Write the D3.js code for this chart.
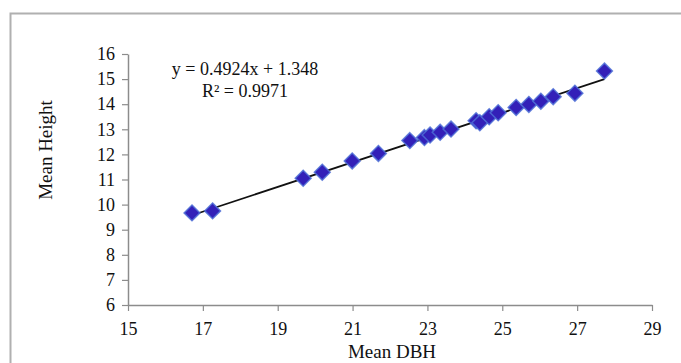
<!DOCTYPE html>
<html>
<head>
<meta charset="utf-8">
<script src="https://cdn.jsdelivr.net/npm/d3@7"></script>
<style>
  html, body { margin: 0; padding: 0; background: #fff; }
  svg { display: block; }
</style>
</head>
<body>
<svg id="chart"></svg>
<script>
// mean DBH / mean height
const dbh = [16.71, 17.26, 19.68, 20.19, 20.99, 21.69, 22.53, 22.92, 23.07, 23.34, 23.63,
             24.30, 24.40, 24.65, 24.89, 25.37, 25.71, 26.03, 26.36, 26.94, 27.73];
const height = [9.67, 9.75, 11.05, 11.29, 11.74, 12.04, 12.55, 12.67, 12.77, 12.88, 13.01,
                13.34, 13.26, 13.50, 13.66, 13.87, 13.99, 14.12, 14.30, 14.44, 15.32];
const xTicks = [15, 17, 19, 21, 23, 25, 27, 29];
const yTicks = [6, 7, 8, 9, 10, 11, 12, 13, 14, 15, 16];
const slope = 0.4924, intercept = 1.348;
const eqLines = ["y = 0.4924x + 1.348", "R² = 0.9971"];

const W = 681, H = 363;
const serif = "'Liberation Serif', 'Times New Roman', serif";
const svg = d3.select("#chart").attr("width", W).attr("height", H)
    .attr("font-family", serif);

// outer frame (only top & left show in the crop)
svg.append("path")
    .attr("d", `M10.5,${H}V13.5H${W}`)
    .attr("fill", "none").attr("stroke", "#b0b0b0").attr("stroke-width", 2);

const x = d3.scaleLinear().domain([15, 29]).range([128, 652]);
const y = d3.scaleLinear().domain([6, 16]).range([305, 54]);

const xAxis = svg.append("g")
    .attr("transform", `translate(0,${y(6)})`)
    .call(d3.axisBottom(x).tickValues(xTicks).tickSize(6).tickPadding(8).tickSizeOuter(0));
const yAxis = svg.append("g")
    .attr("transform", `translate(${x(15)},0)`)
    .call(d3.axisLeft(y).tickValues(yTicks).tickSize(6).tickPadding(7).tickSizeOuter(0));

[xAxis, yAxis].forEach(g => {
    g.select(".domain").attr("stroke", "#8c8c8c").attr("stroke-width", 1.5);
    g.selectAll(".tick line").attr("stroke", "#8c8c8c").attr("stroke-width", 1.2);
    g.selectAll(".tick text").attr("fill", "#111").attr("font-size", 18)
        .attr("font-family", serif);
});
xAxis.selectAll(".tick text").attr("dy", "0.9em");

// trend line
const x0 = d3.min(dbh), x1 = d3.max(dbh);
svg.append("line")
    .attr("x1", x(x0)).attr("y1", y(slope * x0 + intercept))
    .attr("x2", x(x1)).attr("y2", y(slope * x1 + intercept))
    .attr("stroke", "#111").attr("stroke-width", 1.8);

// diamond markers
const sym = d3.symbol().type(d3.symbolDiamond2).size(160);
svg.append("g")
    .selectAll("path")
    .data(dbh.map((d, i) => [d, height[i]]))
    .join("path")
    .attr("transform", d => `translate(${x(d[0])},${y(d[1])})`)
    .attr("d", sym)
    .attr("fill", "#3320b8")
    .attr("stroke", "#4d6fd6")
    .attr("stroke-width", 1.5)
    .attr("stroke-opacity", 0.85);

// regression label
svg.append("g")
    .selectAll("text")
    .data(eqLines)
    .join("text")
    .attr("x", 245).attr("y", (d, i) => 75 + i * 22)
    .attr("text-anchor", "middle")
    .attr("font-size", 18).attr("fill", "#111")
    .text(d => d);

// axis titles
svg.append("text")
    .attr("x", 392).attr("y", 358)
    .attr("text-anchor", "middle").attr("font-size", 19).attr("fill", "#111")
    .text("Mean DBH");
svg.append("text")
    .attr("transform", `translate(52,150) rotate(-90)`)
    .attr("text-anchor", "middle").attr("font-size", 19).attr("fill", "#111")
    .text("Mean Height");
</script>
</body>
</html>
